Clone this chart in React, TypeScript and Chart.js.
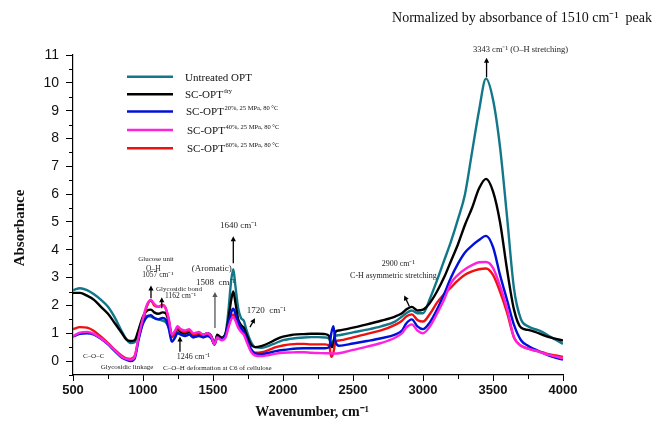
import React, { useEffect, useRef } from "react";
import { Chart, registerables } from "chart.js";
Chart.register(...registerables);

const wavenumbers = [500, 550, 600, 650, 700, 750, 800, 850, 880, 910, 940, 970, 1000, 1030, 1057, 1080, 1110, 1140, 1162, 1185, 1205, 1230, 1246, 1270, 1300, 1330, 1360, 1400, 1430, 1460, 1490, 1510, 1530, 1560, 1590, 1610, 1630, 1645, 1660, 1680, 1700, 1720, 1740, 1770, 1800, 1850, 1900, 1950, 2000, 2050, 2100, 2150, 2200, 2250, 2300, 2330, 2345, 2360, 2375, 2400, 2500, 2600, 2700, 2800, 2850, 2880, 2920, 2960, 3000, 3050, 3100, 3150, 3200, 3250, 3300, 3350, 3400, 3450, 3500, 3550, 3600, 3650, 3700, 3750, 3800, 3850, 3900, 3950, 4000];

const untreatedOPT = [2.55, 2.62, 2.55, 2.4, 2.2, 1.95, 1.55, 1.05, 0.8, 0.65, 0.68, 1.1, 1.5, 1.62, 1.6, 1.55, 1.5, 1.45, 1.4, 1.2, 0.85, 0.95, 1.05, 1.0, 0.95, 1.0, 0.9, 0.95, 0.9, 0.95, 0.85, 0.6, 0.9, 0.8, 1.0, 1.8, 2.9, 3.3, 2.7, 1.9, 1.55, 1.45, 1.1, 0.7, 0.5, 0.48, 0.55, 0.65, 0.75, 0.8, 0.83, 0.85, 0.86, 0.86, 0.85, 0.8, 0.6, 0.75, 0.9, 0.93, 1.03, 1.13, 1.25, 1.42, 1.6, 1.72, 1.82, 1.72, 1.72, 2.25, 2.9, 3.6, 4.3, 5.1, 6.0, 7.5, 9.0, 10.15, 9.4, 7.7, 5.2, 2.6, 1.5, 1.25, 1.15, 1.05, 0.9, 0.76, 0.62];

const scOptDry = [2.45, 2.45, 2.35, 2.2, 1.95, 1.7, 1.35, 1.0, 0.78, 0.72, 0.75, 1.15, 1.6, 1.82, 1.85, 1.75, 1.7, 1.75, 1.72, 1.4, 0.95, 1.05, 1.15, 1.05, 1.0, 1.05, 0.95, 1.0, 0.95, 1.0, 0.88, 0.6, 0.95, 0.85, 1.0, 1.5, 2.2, 2.5, 2.1, 1.5, 1.3, 1.2, 0.95, 0.6, 0.5, 0.55, 0.65, 0.78, 0.88, 0.93, 0.96, 0.97, 0.98, 0.98, 0.97, 0.9, 0.5, 0.6, 1.05, 1.1, 1.2, 1.32, 1.45, 1.6, 1.72, 1.85, 1.95, 1.82, 1.85, 2.1, 2.5, 3.0, 3.6, 4.2, 4.9, 5.5, 6.2, 6.55, 6.1, 5.0, 3.3, 1.85, 1.2, 1.12, 1.05, 0.95, 0.86, 0.8, 0.74];

const scOpt20 = [0.88, 0.98, 1.0, 0.95, 0.8, 0.6, 0.35, 0.12, 0.05, 0.0, 0.08, 0.8, 1.35, 1.6, 1.65, 1.55, 1.5, 1.55, 1.5, 1.15, 0.7, 0.85, 1.0, 0.95, 0.9, 0.95, 0.85, 0.9, 0.85, 0.9, 0.8, 0.6, 0.85, 0.8, 0.95, 1.35, 1.75, 1.88, 1.7, 1.4, 1.2, 1.05, 0.8, 0.45, 0.28, 0.25, 0.3, 0.36, 0.4, 0.43, 0.45, 0.46, 0.46, 0.46, 0.46, 0.5, 1.0, 1.25, 0.7, 0.55, 0.63, 0.72, 0.82, 0.95, 1.1, 1.35, 1.5, 1.25, 1.15, 1.4, 1.85, 2.4, 3.0, 3.5, 3.9, 4.15, 4.35, 4.5, 4.1, 3.1, 2.2, 1.3, 0.75, 0.55, 0.42, 0.3, 0.2, 0.12, 0.05];

const scOpt40 = [0.9, 1.02, 1.05, 0.98, 0.82, 0.62, 0.38, 0.15, 0.08, 0.05, 0.15, 0.9, 1.55, 2.05, 2.2, 2.05, 1.95, 2.0, 1.9, 1.5, 0.95, 1.1, 1.25, 1.15, 1.1, 1.15, 1.0, 1.05, 0.95, 1.0, 0.85, 0.6, 0.85, 0.75, 0.85, 1.2, 1.5, 1.58, 1.45, 1.2, 1.05, 0.95, 0.7, 0.35, 0.2, 0.18, 0.22, 0.27, 0.3, 0.31, 0.32, 0.32, 0.3, 0.29, 0.28, 0.28, 0.27, 0.27, 0.27, 0.28, 0.4, 0.52, 0.65, 0.84, 1.0, 1.2, 1.32, 1.1, 1.0, 1.25, 1.7, 2.2, 2.8, 3.1, 3.3, 3.45, 3.55, 3.56, 3.35, 2.7, 1.9, 0.85, 0.55, 0.45, 0.38, 0.3, 0.22, 0.16, 0.1];

const scOpt60 = [1.15, 1.22, 1.2, 1.08, 0.88, 0.65, 0.4, 0.18, 0.1, 0.08, 0.18, 0.85, 1.45, 2.0, 2.18, 2.0, 1.95, 2.02, 1.9, 1.45, 0.9, 1.05, 1.2, 1.1, 1.05, 1.1, 0.95, 1.0, 0.92, 0.95, 0.82, 0.6, 0.85, 0.78, 0.9, 1.25, 1.6, 1.68, 1.55, 1.3, 1.1, 1.0, 0.75, 0.42, 0.3, 0.32, 0.4, 0.5, 0.56, 0.6, 0.62, 0.62, 0.6, 0.6, 0.6, 0.55, 0.15, 0.3, 0.7, 0.74, 0.85, 0.98, 1.1, 1.3, 1.45, 1.6, 1.68, 1.48, 1.42, 1.7, 2.1, 2.4, 2.65, 2.9, 3.1, 3.22, 3.3, 3.33, 3.1, 2.5, 1.75, 0.85, 0.55, 0.45, 0.38, 0.32, 0.25, 0.2, 0.15];

const xTickValues = [500, 1000, 1500, 2000, 2500, 3000, 3500, 4000];
const xMinorTicks = [750, 1250, 1750, 2250, 2750, 3250, 3750];
const yTickValues = [0, 1, 2, 3, 4, 5, 6, 7, 8, 9, 10, 11];
const yMinorTicks = [-0.5, 0.5, 1.5, 2.5, 3.5, 4.5, 5.5, 6.5, 7.5, 8.5, 9.5, 10.5];

const seriesNames = ["Untreated OPT", "SC-OPT", "SC-OPT", "SC-OPT", "SC-OPT"];
const seriesSup = ["", "dry", "20%, 25 MPa, 80 °C", "40%, 25 MPa, 80 °C", "60%, 25 MPa, 80 °C"];
const seriesColors = ["#13778a", "#000000", "#0010d8", "#ff22dd", "#f01010"];
const seriesValues = [untreatedOPT, scOptDry, scOpt20, scOpt40, scOpt60];

// annotations: [text, wavenumber, absorbance, align, fontSize]
const annotationTexts: [string, number, number, CanvasTextAlign, number][] = [
  ["3343 cm⁻¹ (O–H stretching)", 3357, 11.19, "left", 8.5],
  ["1640 cm⁻¹", 1550, 4.88, "left", 9],
  ["(Aromatic)", 1348, 3.33, "left", 9],
  ["1508  cm⁻¹", 1379, 2.83, "left", 9],
  ["1720  cm⁻¹", 1741, 1.83, "left", 9],
  ["Glucose unit", 1093, 3.68, "center", 7],
  ["O–H", 1074, 3.3, "center", 7.5],
  ["1057 cm⁻¹", 1107, 3.08, "center", 7.5],
  ["Glycosidic bond", 1093, 2.58, "left", 7],
  ["1162 cm⁻¹", 1157, 2.33, "left", 7.5],
  ["1246 cm⁻¹", 1241, 0.14, "left", 8],
  ["C–O–H deformation at C6 of cellulose", 1143, -0.24, "left", 7],
  ["C–O–C", 571, 0.16, "left", 7],
  ["Glycosidic linkage", 698, -0.22, "left", 7],
  ["2900 cm⁻¹", 2705, 3.51, "left", 8],
  ["C-H asymmetric stretching", 2479, 3.05, "left", 8],
];
// arrows: [wn1, a1, wn2, a2, color] arrow head at (wn2, a2)
const annotationArrows: [number, number, number, number, string][] = [
  [3454, 10.2, 3454, 10.9, "#000"],
  [1645, 3.52, 1645, 4.49, "#000"],
  [1514, 1.19, 1514, 2.48, "#555"],
  [1764, 1.22, 1800, 1.54, "#000"],
  [1057, 2.26, 1057, 2.72, "#000"],
  [1134, 1.9, 1134, 2.29, "#000"],
  [1264, 0.34, 1264, 0.88, "#000"],
  [2902, 1.97, 2866, 2.36, "#000"],
];

const serif = "'Liberation Serif', 'Times New Roman', serif";

const overlayPlugin = {
  id: "overlay",
  afterDraw(chart: any) {
    const ctx: CanvasRenderingContext2D = chart.ctx;
    const xs = chart.scales.x;
    const ys = chart.scales.y;
    const area = chart.chartArea;
    ctx.save();
    // minor ticks
    ctx.strokeStyle = "#000";
    ctx.lineWidth = 1;
    ctx.beginPath();
    yMinorTicks.forEach((v) => {
      const py = Math.round(ys.getPixelForValue(v)) + 0.5;
      ctx.moveTo(area.left - 4, py);
      ctx.lineTo(area.left, py);
    });
    xMinorTicks.forEach((v) => {
      const px = Math.round(xs.getPixelForValue(v)) + 0.5;
      ctx.moveTo(px, area.bottom);
      ctx.lineTo(px, area.bottom + 4);
    });
    ctx.stroke();

    // annotation texts
    ctx.fillStyle = "#222";
    ctx.textBaseline = "middle";
    annotationTexts.forEach(([t, wn, a, align, size]) => {
      ctx.font = `${size}px ${serif}`;
      ctx.textAlign = align;
      ctx.fillText(t, xs.getPixelForValue(wn), ys.getPixelForValue(a));
    });
    // arrows
    annotationArrows.forEach(([w1, a1, w2, a2, col]) => {
      const x1 = xs.getPixelForValue(w1), y1 = ys.getPixelForValue(a1);
      const x2 = xs.getPixelForValue(w2), y2 = ys.getPixelForValue(a2);
      const ang = Math.atan2(y2 - y1, x2 - x1);
      ctx.strokeStyle = col;
      ctx.fillStyle = col;
      ctx.lineWidth = 1.3;
      ctx.beginPath();
      ctx.moveTo(x1, y1);
      ctx.lineTo(x2 - Math.cos(ang) * 3, y2 - Math.sin(ang) * 3);
      ctx.stroke();
      const hl = 5, hw = 2.6;
      ctx.beginPath();
      ctx.moveTo(x2, y2);
      ctx.lineTo(x2 - hl * Math.cos(ang) + hw * Math.sin(ang), y2 - hl * Math.sin(ang) - hw * Math.cos(ang));
      ctx.lineTo(x2 - hl * Math.cos(ang) - hw * Math.sin(ang), y2 - hl * Math.sin(ang) + hw * Math.cos(ang));
      ctx.closePath();
      ctx.fill();
    });

    // legend
    const rowY = [76.7, 94.3, 111.5, 130, 148.3];
    const textX = [185, 185, 186, 187, 187];
    seriesNames.forEach((name, i) => {
      ctx.strokeStyle = seriesColors[i];
      ctx.lineWidth = 2.6;
      ctx.beginPath();
      ctx.moveTo(127, rowY[i]);
      ctx.lineTo(173, rowY[i]);
      ctx.stroke();
      ctx.fillStyle = "#111";
      ctx.textAlign = "left";
      ctx.textBaseline = "middle";
      ctx.font = `11px ${serif}`;
      ctx.fillText(name, textX[i], rowY[i] + 1);
      const w = ctx.measureText(name).width;
      if (seriesSup[i]) {
        ctx.font = `6.5px ${serif}`;
        ctx.fillText(seriesSup[i], textX[i] + w + 0.5, rowY[i] - 3);
      }
    });

    // title
    ctx.fillStyle = "#111";
    ctx.font = `14px ${serif}`;
    ctx.textAlign = "right";
    ctx.textBaseline = "middle";
    ctx.fillText("Normalized by absorbance of 1510 cm⁻¹  peak", 652, 18);

    // axis titles
    ctx.font = `bold 14px ${serif}`;
    ctx.textAlign = "center";
    ctx.fillText("Wavenumber, cm⁻¹", 312, 412);
    ctx.save();
    ctx.translate(20, 228);
    ctx.rotate(-Math.PI / 2);
    ctx.font = `bold 15px ${serif}`;
    ctx.fillText("Absorbance", 0, 0);
    ctx.restore();

    ctx.restore();
  },
};

export default function App() {
  const ref = useRef<HTMLCanvasElement>(null);
  useEffect(() => {
    if (!ref.current) return;
    const datasets = seriesValues.map((vals, i) => ({
      label: seriesNames[i] + seriesSup[i],
      data: wavenumbers.map((w, j) => ({ x: w, y: vals[j] })),
      borderColor: seriesColors[i],
      backgroundColor: seriesColors[i],
      borderWidth: 2.4,
      pointRadius: 0,
      fill: false,
      cubicInterpolationMode: "monotone" as const,
      order: [5, 4, 2, 1, 3][i],
    }));
    const chart = new Chart(ref.current, {
      type: "line",
      data: { datasets },
      options: {
        responsive: false,
        animation: false,
        layout: { padding: { left: 0, top: 55, right: 94, bottom: 0 } },
        plugins: { legend: { display: false }, tooltip: { enabled: false }, title: { display: false } },
        scales: {
          x: {
            type: "linear",
            min: 500,
            max: 4000,
            afterBuildTicks: (s: any) => {
              s.ticks = xTickValues.map((v) => ({ value: v }));
            },
            afterFit: (s: any) => {
              s.height = 51;
            },
            grid: { display: true, drawOnChartArea: false, drawTicks: true, tickLength: 6, color: "#000" },
            border: { display: true, color: "#000", width: 1.2 },
            ticks: {
              font: { family: "'Liberation Sans', Arial, sans-serif", size: 13, weight: "bold" },
              color: "#111",
              padding: 2,
              maxRotation: 0,
              autoSkip: false,
              callback: (v: any) => String(v),
            },
          },
          y: {
            min: -0.5,
            max: 11,
            afterBuildTicks: (s: any) => {
              s.ticks = yTickValues.map((v) => ({ value: v }));
            },
            afterFit: (s: any) => {
              s.width = 73;
            },
            grid: { display: true, drawOnChartArea: false, drawTicks: true, tickLength: 7, color: "#000" },
            border: { display: true, color: "#000", width: 1.2 },
            ticks: {
              font: { family: "'Liberation Sans', Arial, sans-serif", size: 14 },
              color: "#111",
              padding: 7,
              autoSkip: false,
              callback: (v: any) => String(v),
            },
          },
        },
      },
      plugins: [overlayPlugin],
    });
    return () => chart.destroy();
  }, []);
  return (
    <div style={{ position: "fixed", left: 0, top: 0, width: 657, height: 426, background: "#fff" }}>
      <canvas ref={ref} width={657} height={426} style={{ width: 657, height: 426, display: "block" }} />
    </div>
  );
}
